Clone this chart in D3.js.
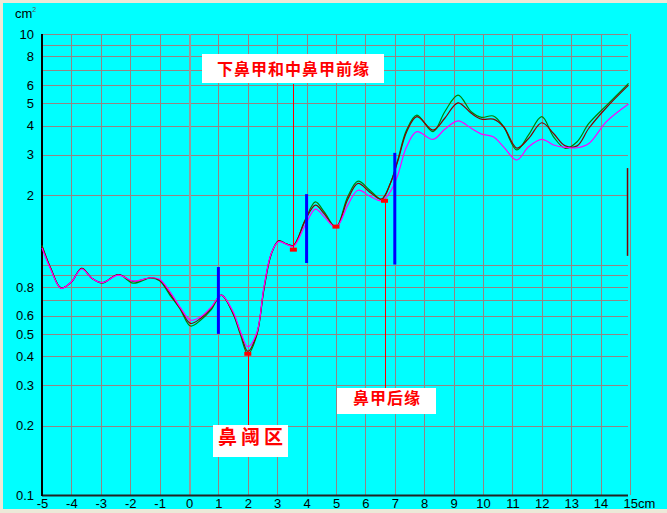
<!DOCTYPE html>
<html><head><meta charset="utf-8">
<script src="https://cdn.jsdelivr.net/npm/d3@7"></script>
<style>
html,body{margin:0;padding:0;background:#ece9d8;}
svg{display:block;}
</style></head>
<body>
<svg id="chart" width="667" height="513"></svg>
<script>
// ---- data ----
const xs = [-5,-4.7,-4.35,-4.0,-3.65,-3.3,-2.95,-2.4,-1.9,-1.3,-1.0,-0.65,-0.3,0.05,0.4,0.75,1.1,1.5,1.75,2.0,2.3,2.55,2.8,3.05,3.3,3.55,3.95,4.3,4.6,5.0,5.4,5.75,6.15,6.55,6.85,7.1,7.4,7.75,8.3,8.7,9.15,9.6,9.95,10.35,10.7,11.15,11.55,12.0,12.4,12.8,13.2,13.6,14.2,14.95];
const greenVals   = [1.21,0.96,0.79,0.84,0.963,0.87,0.83,0.905,0.83,0.875,0.85,0.737,0.64,0.541,0.574,0.635,0.737,0.61,0.495,0.409,0.49,0.78,1.11,1.27,1.23,1.21,1.56,1.87,1.69,1.45,1.97,2.30,2.10,1.92,2.25,2.84,3.83,4.45,3.77,4.6,5.43,4.6,4.35,4.41,3.96,3.14,3.65,4.38,3.58,3.19,3.41,4.09,4.9,6.11];
const darkRedVals = [1.20,0.96,0.79,0.84,0.963,0.87,0.834,0.905,0.845,0.876,0.857,0.75,0.645,0.555,0.585,0.645,0.737,0.615,0.505,0.42,0.495,0.79,1.115,1.265,1.23,1.21,1.55,1.81,1.66,1.45,1.92,2.25,2.06,1.92,2.25,2.80,3.76,4.38,3.83,4.31,5.03,4.53,4.27,4.27,3.96,3.20,3.52,4.12,3.70,3.27,3.27,3.90,4.8,6.0];
const magentaVals = [1.18,0.95,0.788,0.842,0.956,0.871,0.834,0.90,0.848,0.876,0.863,0.762,0.652,0.574,0.594,0.652,0.737,0.624,0.511,0.44,0.503,0.80,1.12,1.256,1.227,1.20,1.48,1.74,1.61,1.45,1.81,2.10,1.98,1.89,2.07,2.44,3.24,3.77,3.49,3.86,4.2,3.90,3.68,3.58,3.24,2.84,3.24,3.49,3.30,3.22,3.21,3.35,4.17,4.97];

const xTicks = [-5,-4,-3,-2,-1,0,1,2,3,4,5,6,7,8,9,10,11,12,13,14,15];
const yGrid = [10,9,8,7,6,5,4,3,2,1,0.9,0.8,0.7,0.6,0.5,0.4,0.3,0.2];
const yTickLabels = [10,8,6,5,4,3,2,0.8,0.6,0.5,0.4,0.3,0.2,0.1];

// blue bars: [x, low, high]
const blueBars = [[1,0.5,0.975],[4,1.015,2.02],[7,1.0,3.05]];
// dark red end bar
const endBar = [14.95,1.09,2.62];
// marked points [x, value]
const markers = [[2.0,0.41],[3.55,1.16],[5.0,1.46],[6.65,1.89]];
const labels = ["下鼻甲和中鼻甲前缘","鼻阈区","鼻甲后缘"];

// ---- drawing ----
const svg = d3.select("#chart");
svg.append("rect").attr("x",3).attr("y",3).attr("width",664).attr("height",506).attr("fill","#00ffff");

const x = d3.scaleLinear().domain([-5,15]).range([42,630]);
const y = d3.scaleLog().domain([0.1,10]).range([495,34]);

const gridColor = "#948484";
// horizontal grid
svg.append("g").selectAll("line").data(yGrid).join("line")
  .attr("x1",42).attr("x2",628).attr("y1",d=>Math.round(y(d))+0.5).attr("y2",d=>Math.round(y(d))+0.5)
  .attr("stroke",gridColor).attr("stroke-width",1).attr("shape-rendering","crispEdges");
// vertical grid
svg.append("g").selectAll("line").data(xTicks.filter(d=>d>-5)).join("line")
  .attr("x1",d=>Math.round(x(d))+0.5).attr("x2",d=>Math.round(x(d))+0.5)
  .attr("y1",34).attr("y2",495)
  .attr("stroke",d=>d===0?"#999999":gridColor).attr("stroke-width",d=>d===0?2:1).attr("shape-rendering","crispEdges");

// axes
const xAxis = d3.axisBottom(x).tickValues(xTicks).tickSize(0).tickFormat(d=>d===15?"15cm":d);
const gx = svg.append("g").attr("transform","translate(0,495)").call(xAxis);
gx.select(".domain").attr("stroke","#222").attr("stroke-width",2).attr("d","M42,0.5H628");
gx.selectAll("text").attr("font-family","Liberation Sans, Arial, sans-serif").attr("font-size",13).attr("fill","#000").attr("dy",0).attr("y",13);
gx.selectAll(".tick").filter(d=>d===15).select("text").attr("text-anchor","start").attr("x",-7);

const yAxis = d3.axisLeft(y).tickValues(yTickLabels).tickSize(0).tickFormat(d=>String(d));
const gy = svg.append("g").attr("transform","translate(42,0)").call(yAxis);
gy.select(".domain").attr("stroke","#000").attr("stroke-width",2).attr("d","M0,34V496");
gy.selectAll("text").attr("font-family","Liberation Sans, Arial, sans-serif").attr("font-size",13).attr("fill","#000").attr("x",-8);

// unit label
const unit = svg.append("text").attr("x",15).attr("y",18).attr("font-family","Liberation Sans, Arial, sans-serif").attr("font-size",13).attr("fill","#000");
unit.append("tspan").text("cm");
unit.append("tspan").attr("font-size",7).attr("dy",-6).attr("fill","#555").text("2");

// curves
const line = d3.line().x((d,i)=>x(xs[i])).y(d=>y(d)).curve(d3.curveCatmullRom.alpha(0.5));
[[greenVals,"#008000"],[darkRedVals,"#800000"],[magentaVals,"#ff00ff"]].forEach(([vals,c])=>{
  svg.append("path").datum(vals).attr("d",line).attr("fill","none").attr("stroke",c).attr("stroke-width",1.2);
});

// blue bars
svg.append("g").selectAll("line").data(blueBars).join("line")
  .attr("x1",d=>x(d[0])).attr("x2",d=>x(d[0])).attr("y1",d=>y(d[1])).attr("y2",d=>y(d[2]))
  .attr("stroke","#0000ff").attr("stroke-width",3);
svg.append("line").attr("x1",x(endBar[0])-1).attr("x2",x(endBar[0])-1).attr("y1",y(endBar[1])).attr("y2",y(endBar[2]))
  .attr("stroke","#800000").attr("stroke-width",1.5);

// annotation lines
const ann = [
  {m:markers[1], y2:84},
  {m:markers[0], y2:425},
  {m:markers[3], y2:388}
];
ann.forEach(a=>{
  svg.append("line").attr("x1",Math.round(x(a.m[0]))+0.5).attr("x2",Math.round(x(a.m[0]))+0.5)
    .attr("y1",y(a.m[1])).attr("y2",a.y2).attr("stroke","#ff0000").attr("stroke-width",1.2)
    .attr("shape-rendering","crispEdges");
});
// markers
svg.append("g").selectAll("rect").data(markers).join("rect")
  .attr("x",d=>x(d[0])-3.5).attr("y",d=>y(d[1])-2).attr("width",7).attr("height",4).attr("fill","#ff0000");

// label boxes
const boxes = [
  {t:labels[0], x:202, y:54, w:182, h:29, fs:16, ls:1, ty:75},
  {t:labels[1], x:213, y:425, w:75, h:32, fs:19, ls:4, ty:444},
  {t:labels[2], x:337, y:388, w:99, h:26, fs:16, ls:1, ty:404}
];
boxes.forEach(b=>{
  svg.append("rect").attr("x",b.x).attr("y",b.y).attr("width",b.w).attr("height",b.h).attr("fill","#fff");
  svg.append("text").attr("x",b.x+b.w/2+b.ls/2).attr("y",b.ty).attr("text-anchor","middle")
    .attr("font-family","Noto Sans CJK SC, sans-serif").attr("font-weight","bold")
    .attr("font-size",b.fs).attr("letter-spacing",b.ls).attr("fill","#ff0000").text(b.t);
});
</script>
</body></html>
